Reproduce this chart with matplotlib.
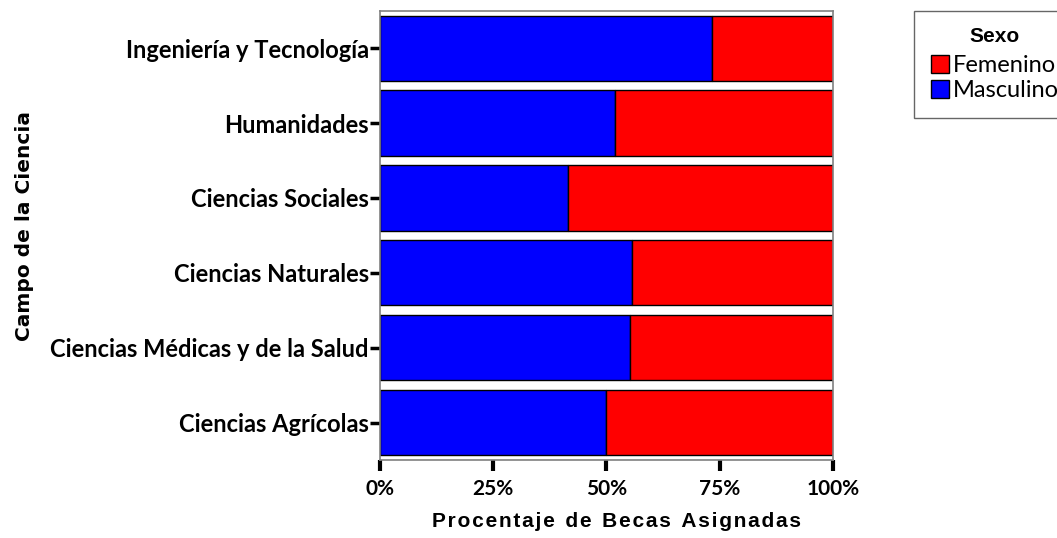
import matplotlib.pyplot as plt
import numpy as np

campos = ['Ciencias Agrícolas', 'Ciencias Médicas y de la Salud', 'Ciencias Naturales',
          'Ciencias Sociales', 'Humanidades', 'Ingeniería y Tecnología']
masculino = [49.8, 55.3, 55.6, 41.5, 51.8, 73.3]
femenino = [100 - m for m in masculino]
ticks_x = [0, 25, 50, 75, 100]
ticks_lbl = ['0%', '25%', '50%', '75%', '100%']

fig = plt.figure(figsize=(10.57, 5.38), dpi=100)
ax = fig.add_axes([0.3595, 0.145, 0.4285, 0.835])

y = np.arange(len(campos))
ax.barh(y, masculino, height=0.87, color='#0000ff', edgecolor='black', linewidth=1, label='Masculino')
ax.barh(y, femenino, left=masculino, height=0.87, color='#ff0000', edgecolor='black', linewidth=1, label='Femenino')

ax.set_xlim(0, 100)
ax.set_ylim(-0.5, 5.5)
ax.set_yticks(y)
ax.set_yticklabels(campos, fontfamily='Lato', fontweight='bold', fontsize=17)
ax.set_xticks(ticks_x)
ax.set_xticklabels(ticks_lbl, fontfamily='Lato', fontweight='bold', fontsize=15)
ax.tick_params(axis='y', length=7, width=2.5, color='black', direction='out', pad=1)
ax.tick_params(axis='x', length=8, width=3, color='black', direction='out', pad=6)
for s in ax.spines.values():
    s.set_color('#808080')
    s.set_linewidth(1.2)

# espaciado entre letras como en el original
xl = '\u200a'.join('Procentaje') + '\u2002' + '\u200a'.join('de') + '\u2002' + \
     '\u200a'.join('Becas') + '\u2002' + '\u200a'.join('Asignadas')
ax.set_xlabel(xl, fontfamily='Liberation Sans', fontweight='bold', fontsize=15, va='center')
ax.xaxis.set_label_coords(0.523, -0.138)
ax.set_ylabel('Campo de la Ciencia', fontfamily='DejaVu Sans', fontweight='bold', fontsize=14.5, va='center')
ax.yaxis.set_label_coords(-0.785, 0.52)

h, l = ax.get_legend_handles_labels()
leg = fig.legend([h[1], h[0]], [l[1], l[0]], title='Sexo', loc='upper left',
                 bbox_to_anchor=(0.865, 0.98), frameon=True, fancybox=False,
                 edgecolor='#404040', prop={'family': 'Lato', 'size': 17},
                 handlelength=0.78, handleheight=0.78, handletextpad=0.15,
                 borderpad=0.7, labelspacing=0.15, borderaxespad=0)
leg.get_title().set_fontfamily('Liberation Sans')
leg.get_title().set_fontweight('bold')
leg.get_title().set_fontsize(15)
leg.get_frame().set_linewidth(1)
leg._legend_box.sep = 0.15 * 17 + 4

fig.savefig('out.png', dpi=100)
